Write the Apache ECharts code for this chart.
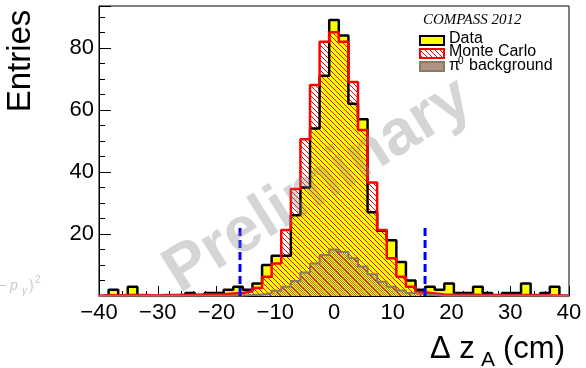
<!DOCTYPE html>
<html>
<head>
<meta charset="utf-8">
<script src="https://cdn.jsdelivr.net/npm/echarts@6/dist/echarts.min.js"></script>
</head>
<body style="margin:0;background:#fff;">
<div id="container" style="width:586px;height:368px;"></div>
<script type="text/javascript">
// 49 bins from -40 to 40 cm
var binCount = 49;
var xMin = -40, xMax = 40;
var dataCounts = [0, 2, 0, 3, 0, 0, 0, 0, 0, 1, 0, 1, 1, 2, 3, 2, 4, 10, 13, 13, 26, 35, 54, 71, 89, 84, 62, 57, 27, 21, 18, 11, 5, 2, 3, 2, 4, 1, 1, 3, 1, 0, 1, 1, 4, 0, 1, 3, 0];
var mcCounts = [0.3, 0.2, 0.3, 0.3, 0.3, 0.2, 0.3, 0.3, 0.4, 0.4, 0.5, 0.5, 0.6, 0.8, 1.0, 1.5, 2.6, 6.2, 10.5, 21.3, 34.5, 50.5, 68, 82, 85, 82, 69, 53.5, 36.6, 21.3, 12.2, 6.2, 3, 1.2, 0.8, 0.5, 0.4, 0.4, 0.4, 0.3, 0.3, 0.3, 0.3, 0.3, 0.3, 0.3, 0.2, 0.2, 0.2];
var bgCounts = [0.1, 0.1, 0.1, 0.1, 0.1, 0.1, 0.1, 0.1, 0.1, 0.1, 0.1, 0.1, 0.1, 0.1, 0.2, 0.3, 0.5, 0.9, 1.7, 3, 4.8, 7.6, 10.5, 13.2, 15, 14.2, 12.2, 9.5, 7, 4.6, 3, 1.8, 1, 0.5, 0.3, 0.1, 0.1, 0.1, 0.1, 0.1, 0.1, 0.1, 0.1, 0.1, 0.1, 0.1, 0.1, 0.1, 0.1];
var cutPositions = [-16, 15.5];
var cutHeight = 23;
var xTicks = [-40, -30, -20, -10, 0, 10, 20, 30, 40];
var yLabels = [20, 40, 60, 80];

var binWidth = (xMax - xMin) / binCount;

function steps(counts) {
    var pts = [[xMin, 0]];
    for (var i = 0; i < counts.length; i++) {
        pts.push([xMin + i * binWidth, counts[i]]);
    }
    pts.push([xMax, counts[counts.length - 1]]);
    pts.push([xMax, 0]);
    return pts;
}

// fill patterns
function hatchPattern(color, size) {
    var c = document.createElement('canvas');
    c.width = size; c.height = size;
    var ctx = c.getContext('2d');
    ctx.strokeStyle = color;
    ctx.lineWidth = 1;
    [-size, 0, size].forEach(function (k) {
        ctx.beginPath();
        ctx.moveTo(k, 0);
        ctx.lineTo(k + size, size);
        ctx.stroke();
    });
    return c;
}
function dotPattern(color) {
    var c = document.createElement('canvas');
    c.width = 2; c.height = 2;
    var ctx = c.getContext('2d');
    ctx.fillStyle = color;
    ctx.fillRect(0, 0, 1, 1);
    ctx.fillRect(1, 1, 1, 1);
    return c;
}
var redHatch = { image: hatchPattern('#ff0000', 5), repeat: 'repeat' };
var brownDots = { image: dotPattern('rgba(140,110,90,0.8)'), repeat: 'repeat' };

var font = 'Liberation Sans, Arial, Helvetica, sans-serif';
var dom = document.getElementById('container');
var myChart = echarts.init(dom);

var option = {
    animation: false,
    grid: {
        left: 99, right: 17, top: 6, bottom: 72,
        show: true, borderColor: '#000', borderWidth: 1
    },
    xAxis: {
        type: 'value', min: xMin, max: xMax, interval: 10,
        axisLine: { onZero: false, lineStyle: { color: '#000', width: 1 } },
        axisTick: { inside: true, length: 10, lineStyle: { color: '#000' } },
        minorTick: { show: true, splitNumber: 5, length: 5, lineStyle: { color: '#000' } },
        splitLine: { show: false },
        axisLabel: {
            color: '#000', fontSize: 22, fontFamily: font, margin: 6,
            formatter: function (v) {
                return xTicks.indexOf(v) >= 0 ? String(v).replace('-', '\u2212') : '';
            }
        }
    },
    yAxis: [{
        type: 'value', min: 0, max: 93.5, interval: 20, position: 'left',
        axisLine: { show: true, onZero: false, lineStyle: { color: '#000', width: 1 } },
        axisTick: { show: true, inside: true, length: 12, lineStyle: { color: '#000' } },
        splitLine: { show: false },
        axisLabel: {
            color: '#000', fontSize: 22, fontFamily: font, margin: 5,
            formatter: function (v) { return yLabels.indexOf(v) >= 0 ? String(v) : ''; }
        }
    }, {
        type: 'value', min: 0, max: 93.5, interval: 5, position: 'left',
        axisLine: { show: false, onZero: false },
        axisTick: { show: true, inside: true, length: 6, lineStyle: { color: '#000' } },
        splitLine: { show: false },
        axisLabel: { show: false }
    }],
    series: [{
        name: 'Data', type: 'line', step: 'end', symbol: 'none',
        data: steps(dataCounts),
        lineStyle: { color: '#000', width: 2.5 },
        areaStyle: { color: '#ffff00', opacity: 1 }
    }, {
        name: 'Monte Carlo', type: 'line', step: 'end', symbol: 'none',
        data: steps(mcCounts),
        lineStyle: { color: '#ff0000', width: 2.5 },
        areaStyle: { color: redHatch, opacity: 1 }
    }, {
        name: 'pi0 background', type: 'line', step: 'end', symbol: 'none',
        data: steps(bgCounts),
        lineStyle: { color: '#8a7868', width: 2 },
        areaStyle: { color: brownDots, opacity: 1 }
    }, {
        name: 'cut low', type: 'line', symbol: 'none',
        data: [[cutPositions[0], 0], [cutPositions[0], cutHeight]],
        lineStyle: { color: '#0000ff', width: 3, type: [8, 4] }
    }, {
        name: 'cut high', type: 'line', symbol: 'none',
        data: [[cutPositions[1], 0], [cutPositions[1], cutHeight]],
        lineStyle: { color: '#0000ff', width: 3, type: [8, 4] }
    }],
    graphic: [
        // legend
        { type: 'text', left: 423, top: 13, style: { text: 'COMPASS 2012', font: 'italic 15px "Liberation Serif", "Times New Roman", serif', fill: '#000' } },
        { type: 'rect', shape: { x: 420, y: 36, width: 24, height: 9 }, style: { fill: '#ffff00', stroke: '#000', lineWidth: 2 } },
        { type: 'text', left: 449, top: 31, style: { text: 'Data', font: '16px ' + font, fill: '#000' } },
        { type: 'rect', shape: { x: 420, y: 49, width: 24, height: 9 }, style: { fill: redHatch, stroke: '#ff0000', lineWidth: 2 } },
        { type: 'text', left: 449, top: 44, style: { text: 'Monte Carlo', font: '16px ' + font, fill: '#000' } },
        { type: 'rect', shape: { x: 420, y: 62, width: 24, height: 9 }, style: { fill: '#b09282', stroke: '#8a7868', lineWidth: 2 } },
        { type: 'text', left: 449, top: 58, style: { text: '\u03c0', font: '16px ' + font, fill: '#000' } },
        { type: 'text', left: 458, top: 56, style: { text: '0', font: '10px ' + font, fill: '#000' } },
        { type: 'text', left: 469, top: 58, style: { text: 'background', font: '16px ' + font, fill: '#000' } },
        // axis titles
        { type: 'text', x: 21, y: 61, rotation: Math.PI / 2, style: { text: 'Entries', font: '33px ' + font, fill: '#000', textAlign: 'center', textVerticalAlign: 'middle' } },
        { type: 'text', x: 430, y: 349, style: { text: '\u0394 z', font: '31px ' + font, fill: '#000', textVerticalAlign: 'middle' } },
        { type: 'text', x: 481, y: 360, style: { text: 'A', font: '21px ' + font, fill: '#000', textVerticalAlign: 'middle' } },
        { type: 'text', x: 503, y: 349, style: { text: '(cm)', font: '31px ' + font, fill: '#000', textVerticalAlign: 'middle' } },
        // leftover label from a neighbouring pad
        { type: 'text', x: -2, y: 286, style: { text: '\u2212 p', font: 'italic 14px ' + font, fill: '#c8c8c8', textVerticalAlign: 'middle' } },
        { type: 'text', x: 22, y: 291, style: { text: '\u03b3', font: 'italic 10px ' + font, fill: '#c8c8c8', textVerticalAlign: 'middle' } },
        { type: 'text', x: 29, y: 286, style: { text: ')', font: '14px ' + font, fill: '#c8c8c8', textVerticalAlign: 'middle' } },
        { type: 'text', x: 35, y: 280, style: { text: '2', font: '10px ' + font, fill: '#c8c8c8', textVerticalAlign: 'middle' } },
        // watermark
        { type: 'text', x: 318, y: 186, rotation: 0.56, z: 100, style: { text: 'Preliminary', font: 'bold 64px ' + font, fill: 'rgba(128,128,128,0.33)', textAlign: 'center', textVerticalAlign: 'middle' } }
    ]
};
myChart.setOption(option);
</script>
</body>
</html>
